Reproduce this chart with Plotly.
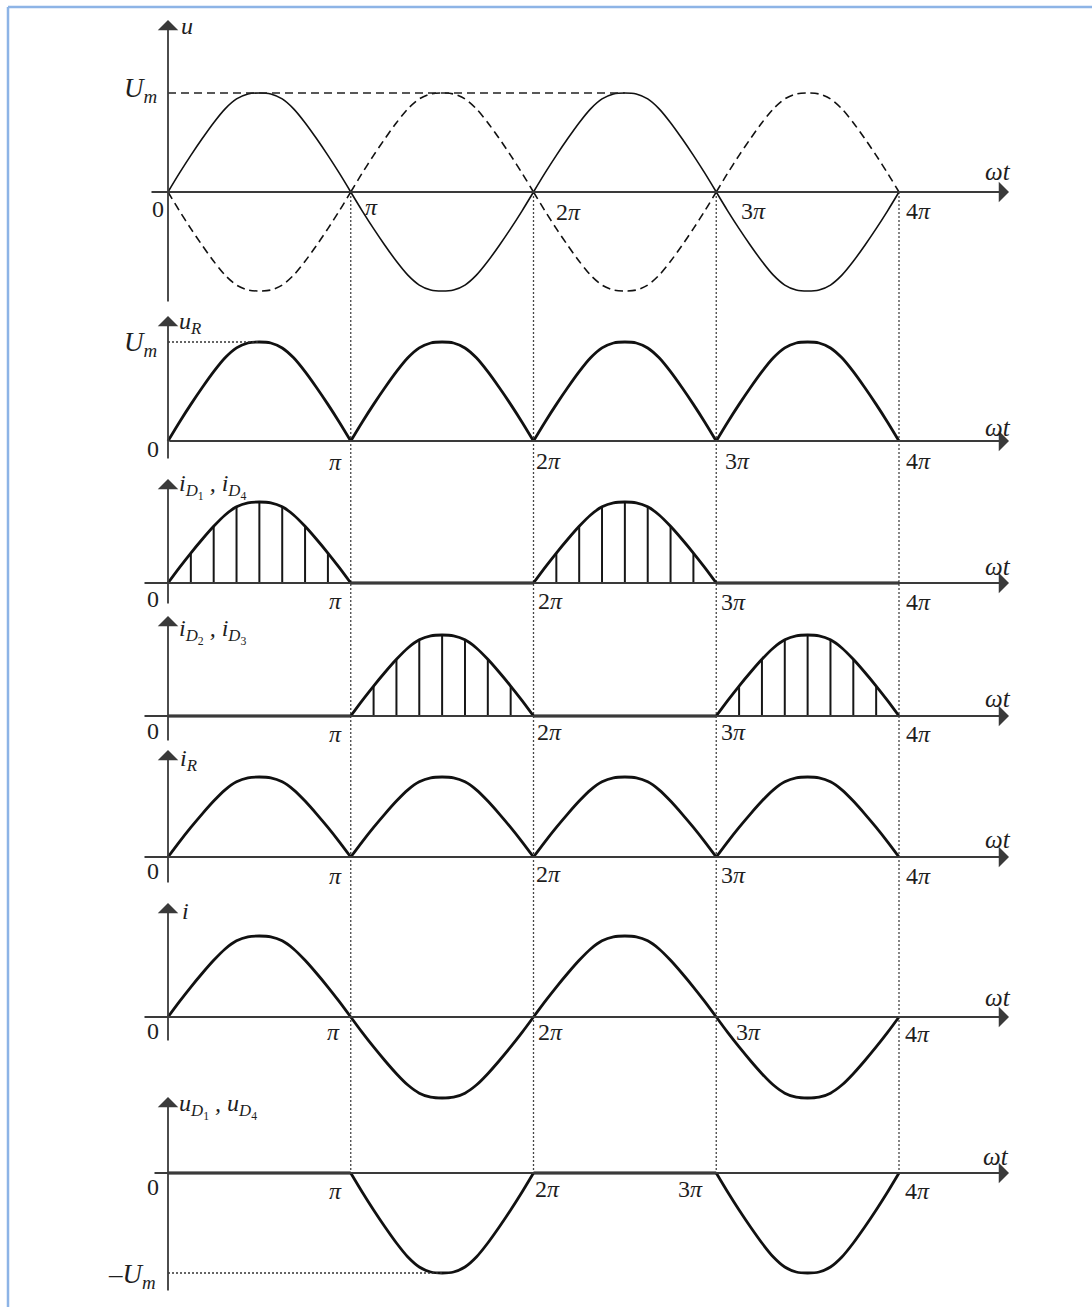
import plotly.graph_objects as go

# ---------------------------------------------------------------- data
# One half-cycle of the sinusoidal arch, sampled every pi/16 (peak = 1)
ARCH_PHASE = [0, 0.0625, 0.125, 0.1875, 0.25, 0.3125, 0.375, 0.4375, 0.5,
              0.5625, 0.625, 0.6875, 0.75, 0.8125, 0.875, 0.9375, 1.0]
ARCH_VALUE = [0, 0.19, 0.37, 0.54, 0.70, 0.84, 0.94, 0.99, 1.0,
              0.99, 0.94, 0.84, 0.70, 0.54, 0.37, 0.19, 0]
# hatch lines stand on every second interior sample (every pi/8)
HATCH_SAMPLES = [2, 4, 6, 8, 10, 12, 14]

# Start of each half-cycle, in units of pi
HALF_CYCLES = [0, 1, 2, 3]

# Polarity of each waveform in the four half-cycles (0 = zero / not conducting)
U_SIGN = [1, -1, 1, -1]        # u (solid)
U_NEG_SIGN = [-1, 1, -1, 1]    # -u (dashed)
UR_SIGN = [1, 1, 1, 1]         # u_R
ID14_SIGN = [1, 0, 1, 0]       # i_D1, i_D4
ID23_SIGN = [0, 1, 0, 1]       # i_D2, i_D3
IR_SIGN = [1, 1, 1, 1]         # i_R
I_SIGN = [1, -1, 1, -1]        # i
UD14_SIGN = [0, -1, 0, -1]     # u_D1, u_D4

UM = 1.0                        # peak value U_m
TICK_VALUES = [0, 1, 2, 3, 4]
TICK_TEXT = ["0", "<i>π</i>", "2<i>π</i>", "3<i>π</i>", "4<i>π</i>"]

# ---------------------------------------------------------------- layout
W, H = 1092, 1307
X0_PX, PI_PX = 168.0, 182.75  # pixel of wt=0 and pixels per pi
FONT = "Liberation Serif"
INK = "#1e1e1e"
AXIS = "#3a3a3a"

# per panel: baseline pixel, pixels per unit, y-axis bottom/top pixel,
# x-axis start pixel
PANELS = [
    dict(base=192, amp=99, ybot=303, ytop=20, xstart=150),
    dict(base=441, amp=99, ybot=460, ytop=316, xstart=168),
    dict(base=583, amp=81, ybot=605, ytop=479, xstart=143),
    dict(base=716, amp=81, ybot=742, ytop=616, xstart=143),
    dict(base=857, amp=80, ybot=884, ytop=750, xstart=143),
    dict(base=1017, amp=81, ybot=1042, ytop=903, xstart=143),
    dict(base=1173, amp=100, ybot=1292, ytop=1097, xstart=153),
]

# tick label centres (pixel) per panel: 0, pi, 2pi, 3pi, 4pi, then "wt"
TICK_POS = [
    [(158, 209), (371, 207), (568, 212), (753, 211), (918, 211), (998, 172)],
    [(153, 449), (335, 462), (548, 461), (737, 461), (918, 461), (998, 427)],
    [(153, 599), (335, 601), (550, 601), (733, 602), (918, 602), (998, 566)],
    [(153, 731), (335, 734), (549, 732), (733, 732), (918, 734), (998, 698)],
    [(153, 871), (335, 876), (548, 874), (733, 875), (918, 876), (998, 839)],
    [(153, 1031), (333, 1032), (550, 1032), (748, 1032), (917, 1034), (998, 997)],
    [(153, 1187), (335, 1191), (547, 1189), (690, 1189), (917, 1191), (996, 1156)],
]

AXIS_TITLES = [
    ("<i>u</i>", 179, 26),
    ("<i>u<sub>R</sub></i>", 177, 323),
    ("<i>i</i><sub><i>D</i><sub>1</sub></sub><i> , i</i><sub><i>D</i><sub>4</sub></sub>", 177, 486),
    ("<i>i</i><sub><i>D</i><sub>2</sub></sub><i> , i</i><sub><i>D</i><sub>3</sub></sub>", 177, 631),
    ("<i>i<sub>R</sub></i>", 178, 760),
    ("<i>i</i>", 180, 911),
    ("<i>u</i><sub><i>D</i><sub>1</sub></sub><i> , u</i><sub><i>D</i><sub>4</sub></sub>", 177, 1106),
]


def xdata(px):
    return (px - X0_PX) / PI_PX


def ypaper(px):
    return 1 - px / H


def wave(signs, peak=UM):
    """Half-cycle segments of a waveform, separated by gaps."""
    xs, ys = [], []
    for start, s in zip(HALF_CYCLES, signs):
        if s == 0:
            xs += [start, start + 1]
            ys += [0, 0]
        else:
            xs += [start + p for p in ARCH_PHASE]
            ys += [s * peak * v for v in ARCH_VALUE]
        xs.append(None)
        ys.append(None)
    return xs, ys


def hatch(signs, peak=UM):
    """Vertical hatch segments under the conducting half-cycles."""
    xs, ys = [], []
    for start, s in zip(HALF_CYCLES, signs):
        if s == 0:
            continue
        for k in HATCH_SAMPLES:
            xs += [start + ARCH_PHASE[k], start + ARCH_PHASE[k], None]
            ys += [0, s * peak * ARCH_VALUE[k], None]
    return xs, ys


fig = go.Figure()


def yname(i):
    return "y" if i == 0 else f"y{i + 1}"


def add_line(i, signs, width, dash="solid"):
    xs, ys = wave(signs)
    fig.add_trace(go.Scatter(
        x=xs, y=ys, yaxis=yname(i), mode="lines",
        line=dict(color="#111111", width=width, dash=dash,
                  shape="spline", smoothing=0.8),
        connectgaps=False, hoverinfo="skip", showlegend=False))


def add_hatch(i, signs):
    xs, ys = hatch(signs)
    fig.add_trace(go.Scatter(
        x=xs, y=ys, yaxis=yname(i), mode="lines",
        line=dict(color="#161616", width=2),
        connectgaps=False, hoverinfo="skip", showlegend=False))


# panel 1: u and -u
add_line(0, U_NEG_SIGN, 1.6, dash="8px,5px")
add_line(0, U_SIGN, 1.6)
# panel 2: u_R
add_line(1, UR_SIGN, 2.8)
# panel 3/4: diode currents with hatched conduction intervals
add_hatch(2, ID14_SIGN)
add_line(2, ID14_SIGN, 2.8)
add_hatch(3, ID23_SIGN)
add_line(3, ID23_SIGN, 2.8)
# panel 5: i_R
add_line(4, IR_SIGN, 2.8)
# panel 6: i
add_line(5, I_SIGN, 2.8)
# panel 7: u_D1, u_D4
add_line(6, UD14_SIGN, 2.8)

shapes = []
annotations = []

# border (top and left edges)
shapes.append(dict(type="line", xref="paper", yref="paper",
                   x0=8 / W, x1=1.0, y0=ypaper(7), y1=ypaper(7),
                   line=dict(color="#8db4e6", width=2.5)))
shapes.append(dict(type="line", xref="paper", yref="paper",
                   x0=8 / W, x1=8 / W, y0=ypaper(7), y1=0,
                   line=dict(color="#8db4e6", width=2.5)))

# dotted projection lines at pi, 2pi, 3pi, 4pi
for k in TICK_VALUES[1:]:
    shapes.append(dict(type="line", xref="x", yref="paper", x0=k, x1=k,
                       y0=ypaper(PANELS[0]["base"]), y1=ypaper(PANELS[-1]["base"]),
                       line=dict(color="#444444", width=1.3, dash="2px,2px"),
                       layer="below"))

# reference lines at +/- U_m
shapes.append(dict(type="line", xref="x", yref="y", x0=0, x1=2.5, y0=UM, y1=UM,
                   line=dict(color="#222222", width=1.5, dash="8px,5px")))
shapes.append(dict(type="line", xref="x", yref="y2", x0=0, x1=0.5, y0=UM, y1=UM,
                   line=dict(color="#333333", width=1.3, dash="2px,2px")))
shapes.append(dict(type="line", xref="x", yref="y7", x0=0, x1=1.5, y0=-UM, y1=-UM,
                   line=dict(color="#333333", width=1.3, dash="2px,2px")))

for i, p in enumerate(PANELS):
    # vertical axis with arrow
    annotations.append(dict(
        x=0, y=ypaper(p["ytop"]), xref="x", yref="paper",
        ax=0, ay=p["ybot"] - p["ytop"], axref="pixel", ayref="pixel",
        showarrow=True, arrowhead=1, arrowsize=1.9, arrowwidth=1.8,
        arrowcolor=AXIS, text=""))
    # horizontal axis with arrow
    annotations.append(dict(
        x=xdata(1009), y=ypaper(p["base"]), xref="x", yref="paper",
        ax=-(1009 - p["xstart"]), ay=0, axref="pixel", ayref="pixel",
        showarrow=True, arrowhead=1, arrowsize=1.9, arrowwidth=1.8,
        arrowcolor=AXIS, text=""))
    # tick labels
    for j, (val, txt) in enumerate(zip(TICK_VALUES, TICK_TEXT)):
        cx, cy = TICK_POS[i][j]
        tick_px = X0_PX + val * PI_PX
        annotations.append(dict(
            x=val, y=ypaper(cy), xref="x", yref="paper",
            xshift=cx - tick_px, text=txt, showarrow=False,
            xanchor="center", yanchor="middle",
            font=dict(family=FONT, size=24, color=INK)))
    wx, wy = TICK_POS[i][5]
    annotations.append(dict(
        x=xdata(wx), y=ypaper(wy), xref="x", yref="paper",
        text="<i>ωt</i>", showarrow=False, xanchor="center", yanchor="middle",
        font=dict(family=FONT, size=25, color=INK)))
    t, tx, ty = AXIS_TITLES[i]
    annotations.append(dict(
        x=xdata(tx), y=ypaper(ty), xref="x", yref="paper",
        text=t, showarrow=False, xanchor="left", yanchor="middle",
        font=dict(family=FONT, size=24, color=INK)))

# U_m labels
for txt, cx, cy in [("<i>U<sub>m</sub></i>", 140, 90),
                    ("<i>U<sub>m</sub></i>", 140, 344),
                    ("–<i>U<sub>m</sub></i>", 132, 1276)]:
    annotations.append(dict(
        x=xdata(cx), y=ypaper(cy), xref="x", yref="paper",
        text=txt, showarrow=False, xanchor="center", yanchor="middle",
        font=dict(family=FONT, size=27, color=INK)))

layout_axes = {}
for i, p in enumerate(PANELS):
    key = "yaxis" if i == 0 else f"yaxis{i + 1}"
    ax = dict(range=[(p["base"] - H) / p["amp"], p["base"] / p["amp"]],
              domain=[0, 1], visible=False, fixedrange=True)
    if i > 0:
        ax["overlaying"] = "y"
    layout_axes[key] = ax

fig.update_layout(
    width=W, height=H,
    margin=dict(l=0, r=0, t=0, b=0),
    paper_bgcolor="white", plot_bgcolor="white",
    xaxis=dict(range=[xdata(0), xdata(W)], visible=False, fixedrange=True),
    shapes=shapes, annotations=annotations,
    showlegend=False,
    **layout_axes,
)

fig.write_html("out.html")
